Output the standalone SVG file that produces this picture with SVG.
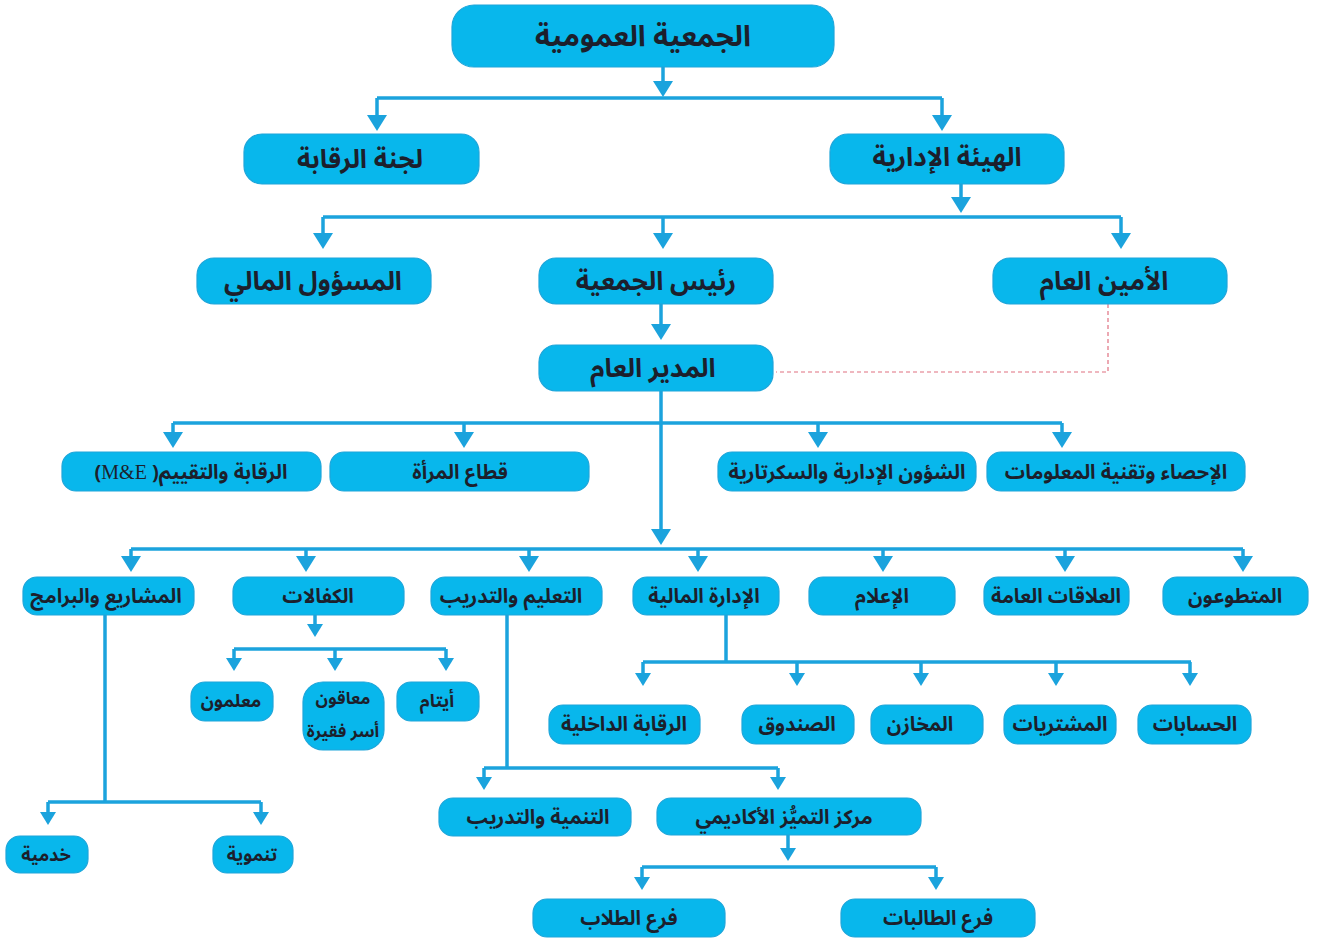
<svg xmlns="http://www.w3.org/2000/svg" width="1318" height="939" viewBox="0 0 1318 939">
<style>
.n rect{fill:#08B7EC;stroke:#1FA6DA;stroke-width:1.2}
.n text{font-family:"Noto Sans Arabic","DejaVu Sans",sans-serif;font-weight:bold;fill:#1C1F2C;text-anchor:middle;direction:rtl}
.t1 text{font-size:29px}
.t2 text{font-size:26px}
.t3 text{font-size:20px}
.t4 text{font-size:18px}
.t5 text{font-size:17px}
.c path{fill:none;stroke:#1BA3DD;stroke-width:3.5}
.c path.b{marker-end:url(#ab)}
.c path.s{marker-end:url(#as)}
.c path.d{stroke:#E07080;stroke-width:1.2;stroke-dasharray:4 3}
</style>
<defs>
<marker id="ab" viewBox="0 0 16 20" refX="0" refY="10" markerWidth="16" markerHeight="20" markerUnits="userSpaceOnUse" orient="auto"><path d="M0,0 L16,10 L0,20 z" fill="#1BA3DD"/></marker>
<marker id="as" viewBox="0 0 13 16" refX="0" refY="8" markerWidth="13" markerHeight="16" markerUnits="userSpaceOnUse" orient="auto"><path d="M0,0 L13,8 L0,16 z" fill="#1BA3DD"/></marker>
</defs>
<rect width="1318" height="939" fill="#FFFFFF"/>
<g id="connectors" class="c">
<path class="b" d="M663,67 V81"/>
<path d="M377,98 H942"/>
<path class="b" d="M377,98 V115"/>
<path class="b" d="M942,98 V115"/>
<path class="b" d="M961,184 V197"/>
<path d="M323,217 H1121"/>
<path class="b" d="M323,217 V233"/>
<path class="b" d="M663,217 V233"/>
<path class="b" d="M1121,217 V233"/>
<path class="b" d="M661,304 V324"/>
<path class="d" d="M1108,304 V372 H776"/>
<path class="b" d="M661,391 V529"/>
<path d="M173,423 H1062"/>
<path class="b" d="M173,423 V432"/>
<path class="b" d="M464,423 V432"/>
<path class="b" d="M818,423 V432"/>
<path class="b" d="M1062,423 V432"/>
<path d="M131,549 H1243"/>
<path class="b" d="M131,549 V556"/>
<path class="b" d="M306,549 V556"/>
<path class="b" d="M529,549 V556"/>
<path class="b" d="M698,549 V556"/>
<path class="b" d="M883,549 V556"/>
<path class="b" d="M1065,549 V556"/>
<path class="b" d="M1243,549 V556"/>
<path d="M105,615 V802"/>
<path d="M48,802 H261"/>
<path class="s" d="M48,802 V812"/>
<path class="s" d="M261,802 V812"/>
<path class="s" d="M315,615 V624"/>
<path d="M234,649 H446"/>
<path class="s" d="M234,649 V658"/>
<path class="s" d="M335,649 V658"/>
<path class="s" d="M446,649 V658"/>
<path d="M507,615 V768"/>
<path d="M484,768 H778"/>
<path class="s" d="M484,768 V777"/>
<path class="s" d="M778,768 V777"/>
<path class="s" d="M788,835 V848"/>
<path d="M642,867 H936"/>
<path class="s" d="M642,867 V877"/>
<path class="s" d="M936,867 V877"/>
<path d="M726,615 V662"/>
<path d="M643,662 H1191"/>
<path class="s" d="M643,662 V673"/>
<path class="s" d="M797,662 V673"/>
<path class="s" d="M921,662 V673"/>
<path class="s" d="M1056,662 V673"/>
<path class="s" d="M1190,662 V673"/>
</g>
<g id="n-general-assembly" class="n t1"><rect x="452" y="5" width="382" height="62" rx="22"/><text x="643" y="46">الجمعية العمومية</text></g>
<g id="n-audit-committee" class="n t2"><rect x="244" y="134" width="235" height="50" rx="18"/><text x="360" y="168">لجنة الرقابة</text></g>
<g id="n-board" class="n t2"><rect x="830" y="134" width="234" height="50" rx="18"/><text x="947" y="166">الهيئة الإدارية</text></g>
<g id="n-finance-officer" class="n t2"><rect x="197" y="258" width="234" height="46" rx="17"/><text x="313" y="290">المسؤول المالي</text></g>
<g id="n-president" class="n t2"><rect x="539" y="258" width="234" height="46" rx="17"/><text x="656" y="290">رئيس الجمعية</text></g>
<g id="n-secretary-general" class="n t2"><rect x="993" y="258" width="234" height="46" rx="17"/><text x="1104" y="290">الأمين العام</text></g>
<g id="n-general-manager" class="n t2"><rect x="539" y="345" width="234" height="46" rx="17"/><text x="653" y="377">المدير العام</text></g>
<g id="n-me" class="n t3"><rect x="62" y="452" width="259" height="39" rx="14"/><text x="191" y="479">الرقابة والتقييم( <tspan font-family="Liberation Serif" font-weight="normal">M&amp;E</tspan>)</text></g>
<g id="n-women" class="n t3"><rect x="330" y="452" width="259" height="39" rx="14"/><text x="460" y="479">قطاع المرأة</text></g>
<g id="n-admin" class="n t3"><rect x="718" y="452" width="258" height="39" rx="14"/><text x="847" y="479">الشؤون الإدارية والسكرتارية</text></g>
<g id="n-stats-it" class="n t3"><rect x="987" y="452" width="258" height="39" rx="14"/><text x="1116" y="479">الإحصاء وتقنية المعلومات</text></g>
<g id="n-projects" class="n t3"><rect x="23" y="577" width="171" height="38" rx="14"/><text x="106" y="603">المشاريع والبرامج</text></g>
<g id="n-sponsorships" class="n t3"><rect x="233" y="577" width="171" height="38" rx="14"/><text x="318" y="603">الكفالات</text></g>
<g id="n-education" class="n t3"><rect x="431" y="577" width="171" height="38" rx="14"/><text x="511" y="603">التعليم والتدريب</text></g>
<g id="n-finance-dept" class="n t3"><rect x="633" y="577" width="146" height="38" rx="14"/><text x="704" y="603">الإدارة المالية</text></g>
<g id="n-media" class="n t3"><rect x="809" y="577" width="146" height="38" rx="14"/><text x="882" y="603">الإعلام</text></g>
<g id="n-pr" class="n t3"><rect x="984" y="577" width="145" height="38" rx="14"/><text x="1056" y="603">العلاقات العامة</text></g>
<g id="n-volunteers" class="n t3"><rect x="1163" y="577" width="145" height="38" rx="14"/><text x="1235" y="603">المتطوعون</text></g>
<g id="n-orphans" class="n t4"><rect x="397" y="682" width="82" height="39" rx="14"/><text x="437" y="707">أيتام</text></g>
<g id="n-disabled" class="n t5"><rect x="303" y="682" width="81" height="68" rx="20"/><text x="343" y="704">معاقون</text><text x="343" y="737">أسر فقيرة</text></g>
<g id="n-teachers" class="n t4"><rect x="191" y="682" width="82" height="39" rx="14"/><text x="231" y="707">معلمون</text></g>
<g id="n-developmental" class="n t4"><rect x="213" y="836" width="80" height="37" rx="14"/><text x="252" y="861">تنموية</text></g>
<g id="n-service" class="n t4"><rect x="6" y="836" width="82" height="37" rx="14"/><text x="46" y="861">خدمية</text></g>
<g id="n-internal-audit" class="n t3"><rect x="549" y="705" width="151" height="39" rx="14"/><text x="624" y="731">الرقابة الداخلية</text></g>
<g id="n-cashbox" class="n t3"><rect x="742" y="705" width="112" height="39" rx="14"/><text x="797" y="731">الصندوق</text></g>
<g id="n-stores" class="n t3"><rect x="871" y="705" width="112" height="39" rx="14"/><text x="920" y="731">المخازن</text></g>
<g id="n-purchases" class="n t3"><rect x="1004" y="705" width="112" height="39" rx="14"/><text x="1060" y="731">المشتريات</text></g>
<g id="n-accounts" class="n t3"><rect x="1138" y="705" width="113" height="39" rx="14"/><text x="1195" y="731">الحسابات</text></g>
<g id="n-dev-training" class="n t3"><rect x="439" y="798" width="192" height="38" rx="14"/><text x="538" y="824">التنمية والتدريب</text></g>
<g id="n-excellence" class="n t3"><rect x="657" y="798" width="264" height="37" rx="14"/><text x="784" y="824">مركز التميُّز الأكاديمي</text></g>
<g id="n-boys" class="n t3"><rect x="533" y="899" width="192" height="38" rx="14"/><text x="629" y="925">فرع الطلاب</text></g>
<g id="n-girls" class="n t3"><rect x="841" y="899" width="194" height="38" rx="14"/><text x="938" y="925">فرع الطالبات</text></g>
</svg>
